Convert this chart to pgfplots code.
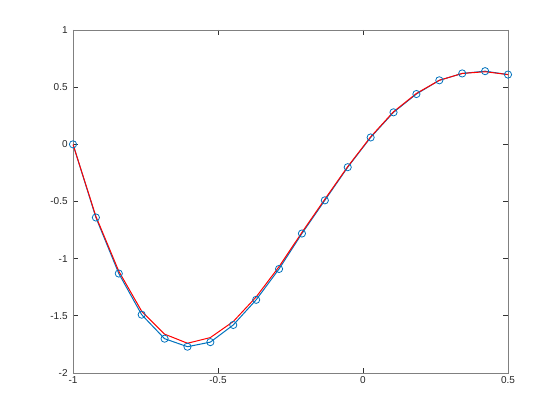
\documentclass[border=0pt]{standalone}
\usepackage{fontspec}
\setmainfont{Liberation Sans}
\usepackage{pgfplots}
\pgfplotsset{compat=1.18}
\definecolor{mblue}{rgb}{0,0.447,0.741}
\begin{document}
\begin{tikzpicture}
\begin{axis}[
  scale only axis,
  width=326.25pt, height=257.25pt,
  xmin=-1, xmax=0.5, ymin=-2, ymax=1,
  xtick={-1,-0.5,0,0.5},
  ytick={-2,-1.5,-1,-0.5,0,0.5,1},
  axis line style={draw=black!50, line width=0.6pt},
  tick style={black!80, line width=0.5pt},
  tick align=inside,
  major tick length=3.5pt,
  tick label style={font=\fontsize{7.5}{9}\selectfont, text=black!85},
  /pgf/number format/assume math mode=true,
  xticklabel style={yshift=1pt},
  yticklabel style={xshift=-0.5pt},
]
\addplot[mblue, line width=0.75pt, mark=o, mark size=2.7pt, mark options={line width=0.6pt}] coordinates {
(-1,0) (-0.92105,-0.64) (-0.84211,-1.13) (-0.76316,-1.49) (-0.68421,-1.70)
(-0.60526,-1.77) (-0.52632,-1.73) (-0.44737,-1.58) (-0.36842,-1.36) (-0.28947,-1.09)
(-0.21053,-0.78) (-0.13158,-0.49) (-0.05263,-0.20) (0.02632,0.06) (0.10526,0.28)
(0.18421,0.44) (0.26316,0.56) (0.34211,0.62) (0.42105,0.64) (0.5,0.61)
};
\addplot[red, line width=0.75pt, mark=none] coordinates {
(-1,0) (-0.92105,-0.63) (-0.84211,-1.11) (-0.76316,-1.46) (-0.68421,-1.66)
(-0.60526,-1.74) (-0.52632,-1.69) (-0.44737,-1.55) (-0.36842,-1.335) (-0.28947,-1.07)
(-0.21053,-0.77) (-0.13158,-0.48) (-0.05263,-0.195) (0.02632,0.065) (0.10526,0.285)
(0.18421,0.445) (0.26316,0.56) (0.34211,0.62) (0.42105,0.635) (0.5,0.61)
};
\end{axis}
\path (-54.75pt,-35.25pt) rectangle (365.25pt,279.75pt);
\end{tikzpicture}
\end{document}
